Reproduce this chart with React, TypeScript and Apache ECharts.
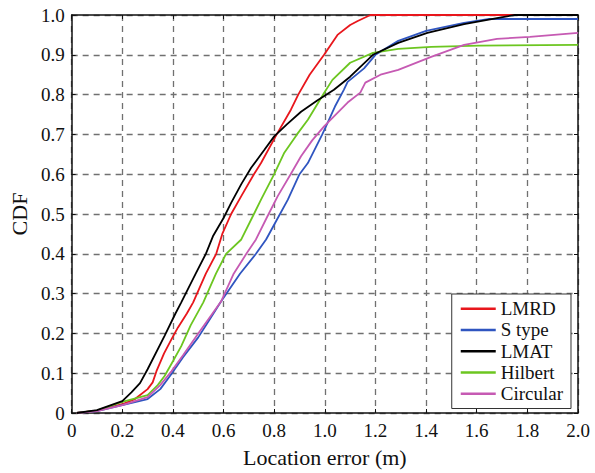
import React, { useEffect, useRef } from "react";
import * as echarts from "echarts";

const seriesNames = ["LMRD", "S type", "LMAT", "Hilbert", "Circular"];
const seriesColors = ["#e8161c", "#2f55c0", "#000000", "#6cc620", "#c65ab3"];

const lmrd: number[][] = [
  [0.02, 0], [0.1, 0.006], [0.2, 0.022], [0.25, 0.035], [0.3, 0.06], [0.32, 0.077], [0.335, 0.105],
  [0.365, 0.15], [0.394, 0.185], [0.42, 0.215], [0.455, 0.25], [0.48, 0.278], [0.53, 0.35], [0.571, 0.4],
  [0.595, 0.45], [0.63, 0.5], [0.67, 0.545], [0.72, 0.6], [0.748, 0.628], [0.81, 0.7], [0.866, 0.762],
  [0.895, 0.8], [0.94, 0.85], [0.997, 0.9], [1.05, 0.95], [1.1, 0.975], [1.13, 0.985], [1.18, 1.0], [2.0, 1.0],
];
const sType: number[][] = [
  [0.02, 0], [0.1, 0.005], [0.2, 0.02], [0.3, 0.035], [0.35, 0.06], [0.394, 0.098], [0.44, 0.14],
  [0.5, 0.19], [0.545, 0.235], [0.59, 0.28], [0.665, 0.35], [0.728, 0.4], [0.768, 0.436], [0.81, 0.485],
  [0.854, 0.536], [0.9, 0.6], [0.933, 0.628], [0.99, 0.7], [1.01, 0.728], [1.04, 0.77], [1.075, 0.812],
  [1.09, 0.832], [1.155, 0.866], [1.2, 0.9], [1.29, 0.935], [1.4, 0.96], [1.55, 0.98], [1.65, 0.99],
  [1.75, 0.99], [2.0, 0.99],
];
const lmat: number[][] = [
  [0.02, 0], [0.1, 0.007], [0.2, 0.03], [0.236, 0.052], [0.27, 0.075], [0.3, 0.11], [0.367, 0.194],
  [0.41, 0.25], [0.433, 0.278], [0.49, 0.35], [0.53, 0.4], [0.558, 0.444], [0.6, 0.49], [0.63, 0.528],
  [0.67, 0.575], [0.709, 0.616], [0.76, 0.66], [0.8, 0.695], [0.85, 0.725], [0.906, 0.757], [0.97, 0.785],
  [1.036, 0.812], [1.1, 0.845], [1.19, 0.9], [1.29, 0.93], [1.405, 0.955], [1.55, 0.977], [1.68, 0.992],
  [1.75, 1.0], [2.0, 1.0],
];
const hilbert: number[][] = [
  [0.02, 0], [0.1, 0.006], [0.2, 0.028], [0.3, 0.045], [0.34, 0.07], [0.367, 0.093], [0.4, 0.13],
  [0.433, 0.168], [0.47, 0.22], [0.52, 0.278], [0.57, 0.35], [0.61, 0.4], [0.67, 0.436], [0.72, 0.5],
  [0.748, 0.536], [0.8, 0.6], [0.84, 0.654], [0.89, 0.7], [0.933, 0.737], [0.997, 0.804], [1.03, 0.837],
  [1.1, 0.88], [1.19, 0.905], [1.29, 0.915], [1.42, 0.92], [1.61, 0.923], [2.0, 0.925],
];
const circular: number[][] = [
  [0.02, 0], [0.1, 0.005], [0.2, 0.02], [0.3, 0.04], [0.35, 0.07], [0.394, 0.105], [0.44, 0.145],
  [0.5, 0.2], [0.545, 0.24], [0.59, 0.28], [0.64, 0.35], [0.69, 0.4], [0.728, 0.436], [0.77, 0.49],
  [0.814, 0.545], [0.865, 0.6], [0.906, 0.645], [0.95, 0.685], [0.997, 0.72], [1.09, 0.78], [1.14, 0.805],
  [1.16, 0.83], [1.22, 0.85], [1.29, 0.862], [1.42, 0.895], [1.55, 0.925], [1.68, 0.94], [1.81, 0.945],
  [2.0, 0.955],
];
const seriesData = [lmrd, sType, lmat, hilbert, circular];

const FONT = "Liberation Serif";
const fmt = (v: number) => (v === 0 ? "0" : v.toFixed(1));

export default function App() {
  const ref = useRef<HTMLDivElement>(null);
  useEffect(() => {
    if (!ref.current) return;
    const chart = echarts.init(ref.current, undefined, { renderer: "svg" });
    const splitLine = { show: true, lineStyle: { color: "#707070", type: [6, 5] as any, width: 1.3 } };
    const axisLine = { show: true, onZero: false, lineStyle: { color: "#111", width: 1.5 } };
    const axisTick = { show: true, inside: true, length: 4, lineStyle: { color: "#111" } };
    chart.setOption({
      animation: false,
      backgroundColor: "#fff",
      textStyle: { fontFamily: FONT },
      grid: { left: 70, top: 15, right: 17, bottom: 59, show: false },
      legend: {
        orient: "vertical",
        right: 24,
        top: 294,
        data: seriesNames,
        icon: "rect",
        itemWidth: 35,
        itemHeight: 2.5,
        itemGap: 2,
        padding: [5, 8, 5, 9],
        borderColor: "#333",
        borderWidth: 1,
        backgroundColor: "#fff",
        textStyle: { fontFamily: FONT, fontSize: 19, lineHeight: 19.3, color: "#111" },
      },
      xAxis: [
        {
          type: "value", min: 0, max: 2, interval: 0.2,
          name: "Location error (m)", nameLocation: "middle", nameGap: 33,
          nameTextStyle: { fontFamily: FONT, fontSize: 22, color: "#111" },
          axisLine, axisTick, splitLine,
          axisLabel: { fontFamily: FONT, fontSize: 19, color: "#111", margin: 8, formatter: fmt },
        },
        {
          type: "value", min: 0, max: 2, interval: 0.2, position: "top",
          axisLine, axisTick, splitLine: { show: false }, axisLabel: { show: false },
        },
      ],
      yAxis: [
        {
          type: "value", min: 0, max: 1, interval: 0.1,
          name: "CDF", nameLocation: "middle", nameGap: 40,
          nameTextStyle: { fontFamily: FONT, fontSize: 22, color: "#111" },
          axisLine, axisTick, splitLine,
          axisLabel: { fontFamily: FONT, fontSize: 19, color: "#111", margin: 7, formatter: fmt },
        },
        {
          type: "value", min: 0, max: 1, interval: 0.1, position: "right",
          axisLine, axisTick, splitLine: { show: false }, axisLabel: { show: false },
        },
      ],
      series: seriesNames.map((name, i) => ({
        name,
        type: "line",
        data: seriesData[i],
        showSymbol: false,
        symbol: "none",
        color: seriesColors[i],
        lineStyle: { width: 1.8, color: seriesColors[i] },
        z: i === 2 ? 5 : 3,
      })),
    });
    return () => chart.dispose();
  }, []);
  return (
    <div
      ref={ref}
      style={{ position: "fixed", left: 0, top: 0, width: 595, height: 473, background: "#fff" }}
    />
  );
}
